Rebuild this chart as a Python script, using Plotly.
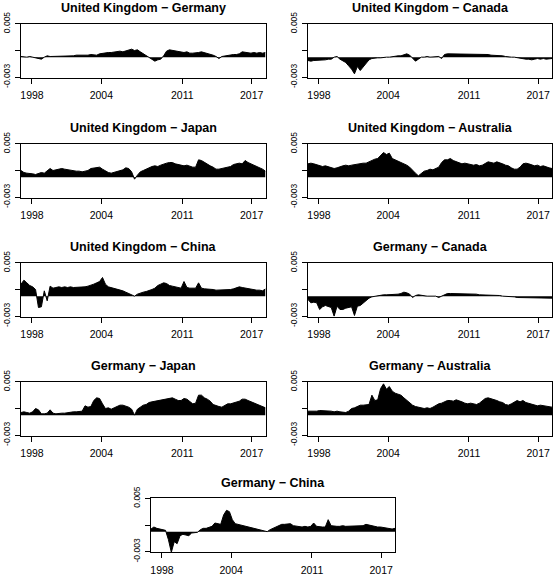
import numpy as np
import plotly.graph_objects as go

# ---------------- data (values in units of 0.001) ----------------
titles = [
    "United Kingdom − Germany", "United Kingdom − Canada",
    "United Kingdom − Japan", "United Kingdom − Australia",
    "United Kingdom − China", "Germany − Canada",
    "Germany − Japan", "Germany − Australia",
    "Germany − China",
]

x_ticks = [1998, 2004, 2011, 2017]
y_ticks = [-0.003, 0.001, 0.005]
y_tick_text = ["-0.003", "", "0.005"]

uk_de = [0.1, 0.0, 0.0, 0.1, 0.0, 0.0, -0.1, -0.3, 0.0, 0.2, 0.1, 0.1,
         0.2, 0.1, 0.2, 0.1, 0.2, 0.2, 0.2, 0.3, 0.3, 0.2, 0.3, 0.3,
         0.4, 0.4, 0.3, 0.5, 0.6, 0.6, 0.7, 0.7, 0.8, 0.8, 0.9, 0.8,
         0.9, 1.1, 1.2, 1.0, 1.1, 0.8, 0.5, 0.2, 0.0, -0.3, -0.6, -0.4,
         -0.3, 0.2, 0.9, 1.1, 1.0, 0.9, 0.9, 0.8, 0.7, 0.8, 0.6, 0.6,
         0.6, 0.7, 0.8, 0.7, 0.5, 0.4, 0.3, 0.1, -0.2, 0.1, 0.2, 0.2,
         0.3, 0.4, 0.4, 0.5, 0.8, 0.7, 0.6, 0.6, 0.7, 0.6, 0.7, 0.6, 0.7]

uk_ca = [-0.5, -0.6, -0.5, -0.5, -0.4, -0.5, -0.4, -0.3, -0.3, 0.0, 0.1, -0.3,
         -0.5, -0.8, -1.3, -1.8, -2.5, -1.4, -2.0, -1.5, -0.9, -0.4, -0.2, -0.1,
         -0.1, -0.1, 0.0, 0.0, 0.0, 0.1, 0.1, 0.2, 0.2, 0.4, 0.5, 0.3,
         -0.2, -0.6, -0.3, 0.0, 0.0, 0.1, 0.0, 0.0, 0.0, 0.1, -0.2, 0.4,
         0.5, 0.5, 0.5, 0.5, 0.5, 0.5, 0.5, 0.5, 0.5, 0.5, 0.5, 0.4,
         0.4, 0.4, 0.4, 0.3, 0.3, 0.3, 0.2, 0.2, 0.1, 0.0, 0.0, 0.0,
         -0.1, -0.1, -0.2, -0.3, -0.3, -0.4, -0.3, -0.2, -0.3, -0.2, -0.3, -0.2, -0.2]

uk_jp = [1.0, 0.7, 0.6, 0.6, 0.5, 0.4, 0.5, 0.7, 0.6, 1.0, 1.3, 1.0,
         1.1, 1.3, 1.3, 1.2, 1.1, 1.0, 1.0, 0.9, 0.9, 0.8, 0.9, 1.0,
         1.3, 1.4, 1.5, 1.5, 1.2, 0.9, 0.7, 0.6, 0.7, 0.8, 1.0, 1.1,
         1.4, 1.3, 0.8, -0.3, 0.3, 0.8, 1.0, 1.2, 1.5, 1.6, 1.7, 1.6,
         1.8, 2.0, 2.1, 2.2, 2.2, 2.0, 1.9, 1.8, 1.7, 1.8, 1.6, 1.5,
         1.5, 2.6, 2.5, 2.2, 1.9, 1.7, 1.5, 1.2, 1.2, 1.3, 1.4, 1.5,
         1.6, 1.9, 2.0, 2.1, 2.0, 2.5, 2.2, 2.0, 1.8, 1.6, 1.5, 1.2, 0.9]

uk_au = [2.0, 2.1, 2.0, 1.9, 1.7, 1.6, 1.7, 1.6, 1.5, 1.3, 1.4, 1.6,
         1.7, 1.8, 1.7, 1.8, 1.9, 2.0, 2.0, 2.1, 2.1, 2.3, 2.6, 2.7,
         2.8, 3.3, 3.7, 3.4, 3.6, 2.8, 2.6, 2.4, 2.2, 2.1, 1.8, 1.5,
         1.0, 0.6, 0.2, 0.5, 0.9, 1.0, 1.2, 1.1, 1.3, 1.5, 2.2, 2.6,
         2.6, 2.8, 2.5, 2.3, 2.2, 2.0, 2.1, 2.0, 1.9, 1.8, 1.9, 1.7,
         1.8, 2.0, 2.3, 2.2, 2.1, 2.3, 2.2, 2.0, 1.8, 1.7, 1.4, 1.2,
         1.2, 1.5, 2.0, 2.1, 2.0, 1.8, 1.7, 1.8, 1.6, 1.7, 1.5, 1.4, 1.3]

uk_cn = [1.8, 2.4, 2.0, 1.6, 1.4, 1.0, -1.7, -1.6, 0.8, -0.7, 1.5, 1.2,
         1.3, 1.4, 1.3, 1.4, 1.3, 1.4, 1.3, 1.3, 1.4, 1.3, 1.4, 1.5,
         1.6, 1.8, 2.0, 2.2, 2.8, 1.8, 1.4, 1.3, 1.2, 1.1, 0.9, 0.8,
         0.6, 0.4, 0.2, 0.0, 0.3, 0.5, 0.6, 0.7, 0.8, 1.0, 1.2, 1.6,
         1.8, 2.0, 1.9, 1.6, 1.5, 1.4, 1.3, 1.2, 2.2, 1.3, 1.2, 1.2,
         1.2, 2.0, 1.2, 1.1, 1.1, 1.0, 1.0, 0.9, 0.9, 1.0, 0.9, 1.0,
         1.0, 1.1, 1.2, 1.4, 1.3, 1.2, 1.1, 1.0, 1.0, 0.9, 0.9, 0.8, 1.1]

de_ca = [-0.5, -1.0, -0.9, -1.0, -2.0, -1.6, -1.4, -1.5, -1.7, -3.0, -1.5, -2.0,
         -2.0, -1.8, -1.7, -1.6, -2.9, -1.5, -1.4, -1.0, -0.6, -0.3, -0.1, 0.0,
         0.1, 0.2, 0.2, 0.2, 0.2, 0.3, 0.3, 0.3, 0.4, 0.6, 0.5, 0.3,
         -0.2, 0.1, 0.2, 0.1, 0.1, 0.0, 0.0, 0.0, 0.0, -0.2, 0.0, 0.3,
         0.4, 0.4, 0.4, 0.3, 0.4, 0.3, 0.3, 0.3, 0.3, 0.3, 0.3, 0.2,
         0.2, 0.2, 0.2, 0.1, 0.1, 0.1, 0.1, 0.0, 0.0, 0.0, -0.1, -0.1,
         -0.2, -0.2, -0.3, -0.3, -0.3, -0.3, -0.2, -0.2, -0.3, -0.2, -0.3, -0.2, -0.3]

de_jp = [0.4, 0.5, 0.4, 0.3, 0.5, 1.0, 0.8, 0.2, 0.2, 0.3, 0.8, 0.3,
         0.2, 0.3, 0.3, 0.3, 0.4, 0.4, 0.5, 0.5, 0.5, 0.6, 1.4, 1.2,
         1.3, 2.2, 2.6, 2.5, 1.7, 1.0, 1.1, 0.9, 1.1, 1.3, 1.5, 1.5,
         1.4, 1.2, 0.9, 0.0, 0.9, 1.2, 1.5, 1.6, 1.9, 2.0, 2.1, 2.2,
         2.2, 2.3, 2.5, 2.6, 2.6, 2.4, 2.2, 2.2, 2.5, 2.4, 2.0, 1.7,
         1.8, 3.0, 3.0, 2.6, 2.4, 2.1, 1.6, 1.4, 1.3, 1.2, 1.5, 1.7,
         1.7, 1.8, 1.9, 2.1, 2.4, 2.4, 2.2, 2.0, 1.9, 1.6, 1.4, 1.3, 1.1]

de_au = [0.6, 0.6, 0.5, 0.6, 0.7, 0.7, 0.6, 0.6, 0.6, 0.5, 0.6, 0.5,
         0.4, 0.4, 0.6, 1.0, 1.1, 1.3, 1.5, 1.5, 1.5, 1.6, 3.0, 2.2,
         2.3, 4.0, 4.7, 3.9, 4.3, 3.6, 3.3, 3.1, 3.0, 2.6, 2.2, 1.9,
         1.5, 1.3, 1.2, 1.1, 1.0, 1.1, 1.0, 1.2, 1.5, 1.7, 1.8, 2.0,
         2.2, 2.2, 2.1, 2.3, 2.2, 2.0, 1.8, 1.7, 1.8, 1.7, 1.6, 1.8,
         2.2, 2.5, 2.6, 2.5, 2.4, 2.2, 2.0, 1.9, 1.6, 1.5, 1.7, 1.9,
         2.2, 2.0, 2.2, 1.9, 1.8, 1.7, 1.5, 1.4, 1.5, 1.4, 1.3, 1.3, 1.2]

de_cn = [0.4, 0.7, 0.5, 0.4, 0.3, 0.2, -1.2, -3.1, -1.5, -1.8, -0.6, -0.4,
         -0.5, -0.6, -0.2, -0.1, -0.1, 0.3, 0.5, 0.5, 0.7, 0.8, 1.3, 1.2,
         1.1, 2.5, 3.2, 3.0, 1.8, 1.2, 1.1, 1.0, 0.8, 0.7, 0.6, 0.5,
         0.4, 0.3, 0.2, 0.1, 0.0, 0.3, 0.5, 0.8, 1.0, 1.1, 1.1, 1.1,
         1.2, 0.9, 0.8, 0.7, 0.7, 0.8, 0.7, 0.8, 1.3, 0.8, 0.7, 0.7,
         0.7, 1.8, 0.9, 0.8, 0.8, 0.8, 0.9, 0.8, 0.8, 0.8, 0.8, 0.9,
         0.8, 0.9, 1.1, 1.0, 0.8, 0.7, 0.7, 0.7, 0.6, 0.5, 0.4, 0.4, 0.5]

series = [uk_de, uk_ca, uk_jp, uk_au, uk_cn, de_ca, de_jp, de_au, de_cn]

X_MIN, X_MAX = 1997.05, 2018.2
dates = np.linspace(X_MIN, X_MAX, len(uk_de))

# ---------------- layout geometry (pixels) ----------------
W, H = 553, 575
cols = {"L": (21, 265.5), "R": (308, 552), "C": (151, 395)}
rows = [(23.5, 77.5), (143.5, 197.5), (262.5, 316.5), (381.5, 435.5), (498, 552)]
placement = [("L", 0), ("R", 0), ("L", 1), ("R", 1), ("L", 2), ("R", 2),
             ("L", 3), ("R", 3), ("C", 4)]

FONT = "Liberation Sans, Arial, Helvetica, sans-serif"
fig = go.Figure()
annotations = []
layout_axes = {}

for i, (vals, title, (c, r)) in enumerate(zip(series, titles, placement)):
    n = "" if i == 0 else str(i + 1)
    x0, x1 = cols[c]
    top, bot = rows[r]
    fig.add_trace(go.Scatter(
        x=dates, y=np.array(vals) * 1e-3, mode="lines",
        line=dict(color="black", width=1),
        fill="tozeroy", fillcolor="black",
        xaxis="x" + n, yaxis="y" + n, showlegend=False, hoverinfo="skip",
    ))
    common = dict(showline=True, linecolor="black", linewidth=1, mirror=True,
                  ticks="outside", ticklen=5, tickwidth=1, tickcolor="black",
                  showgrid=False, zeroline=False, automargin=False)
    layout_axes["xaxis" + n] = dict(
        domain=[x0 / W, x1 / W], anchor="y" + n, range=[X_MIN, X_MAX],
        tickvals=x_ticks, ticktext=[str(v) for v in x_ticks],
        tickfont=dict(family=FONT, size=10.5, color="black"),
        ticklabelstandoff=3, **common)
    layout_axes["yaxis" + n] = dict(
        domain=[1 - bot / H, 1 - top / H], anchor="x" + n,
        range=[-0.00305, 0.00505], tickvals=y_ticks, ticktext=y_tick_text,
        tickangle=-90, tickfont=dict(family=FONT, size=8.5, color="black"),
        ticklabelstandoff=2, **common)
    annotations.append(dict(
        text="<b>" + title + "</b>", x=(x0 + x1) / 2 / W, y=1 - (top - 15.5) / H,
        xref="paper", yref="paper", xanchor="center", yanchor="middle",
        showarrow=False, font=dict(family=FONT, size=12.5, color="black")))

fig.update_layout(
    template="none",
    width=W, height=H, margin=dict(l=0, r=0, t=0, b=0, autoexpand=False),
    paper_bgcolor="white", plot_bgcolor="white",
    annotations=annotations, **layout_axes)

fig.write_html(
    "out.html",
    config={"displayModeBar": False},
    post_script="document.body.style.margin='0px';document.body.style.overflow='hidden';",
)
